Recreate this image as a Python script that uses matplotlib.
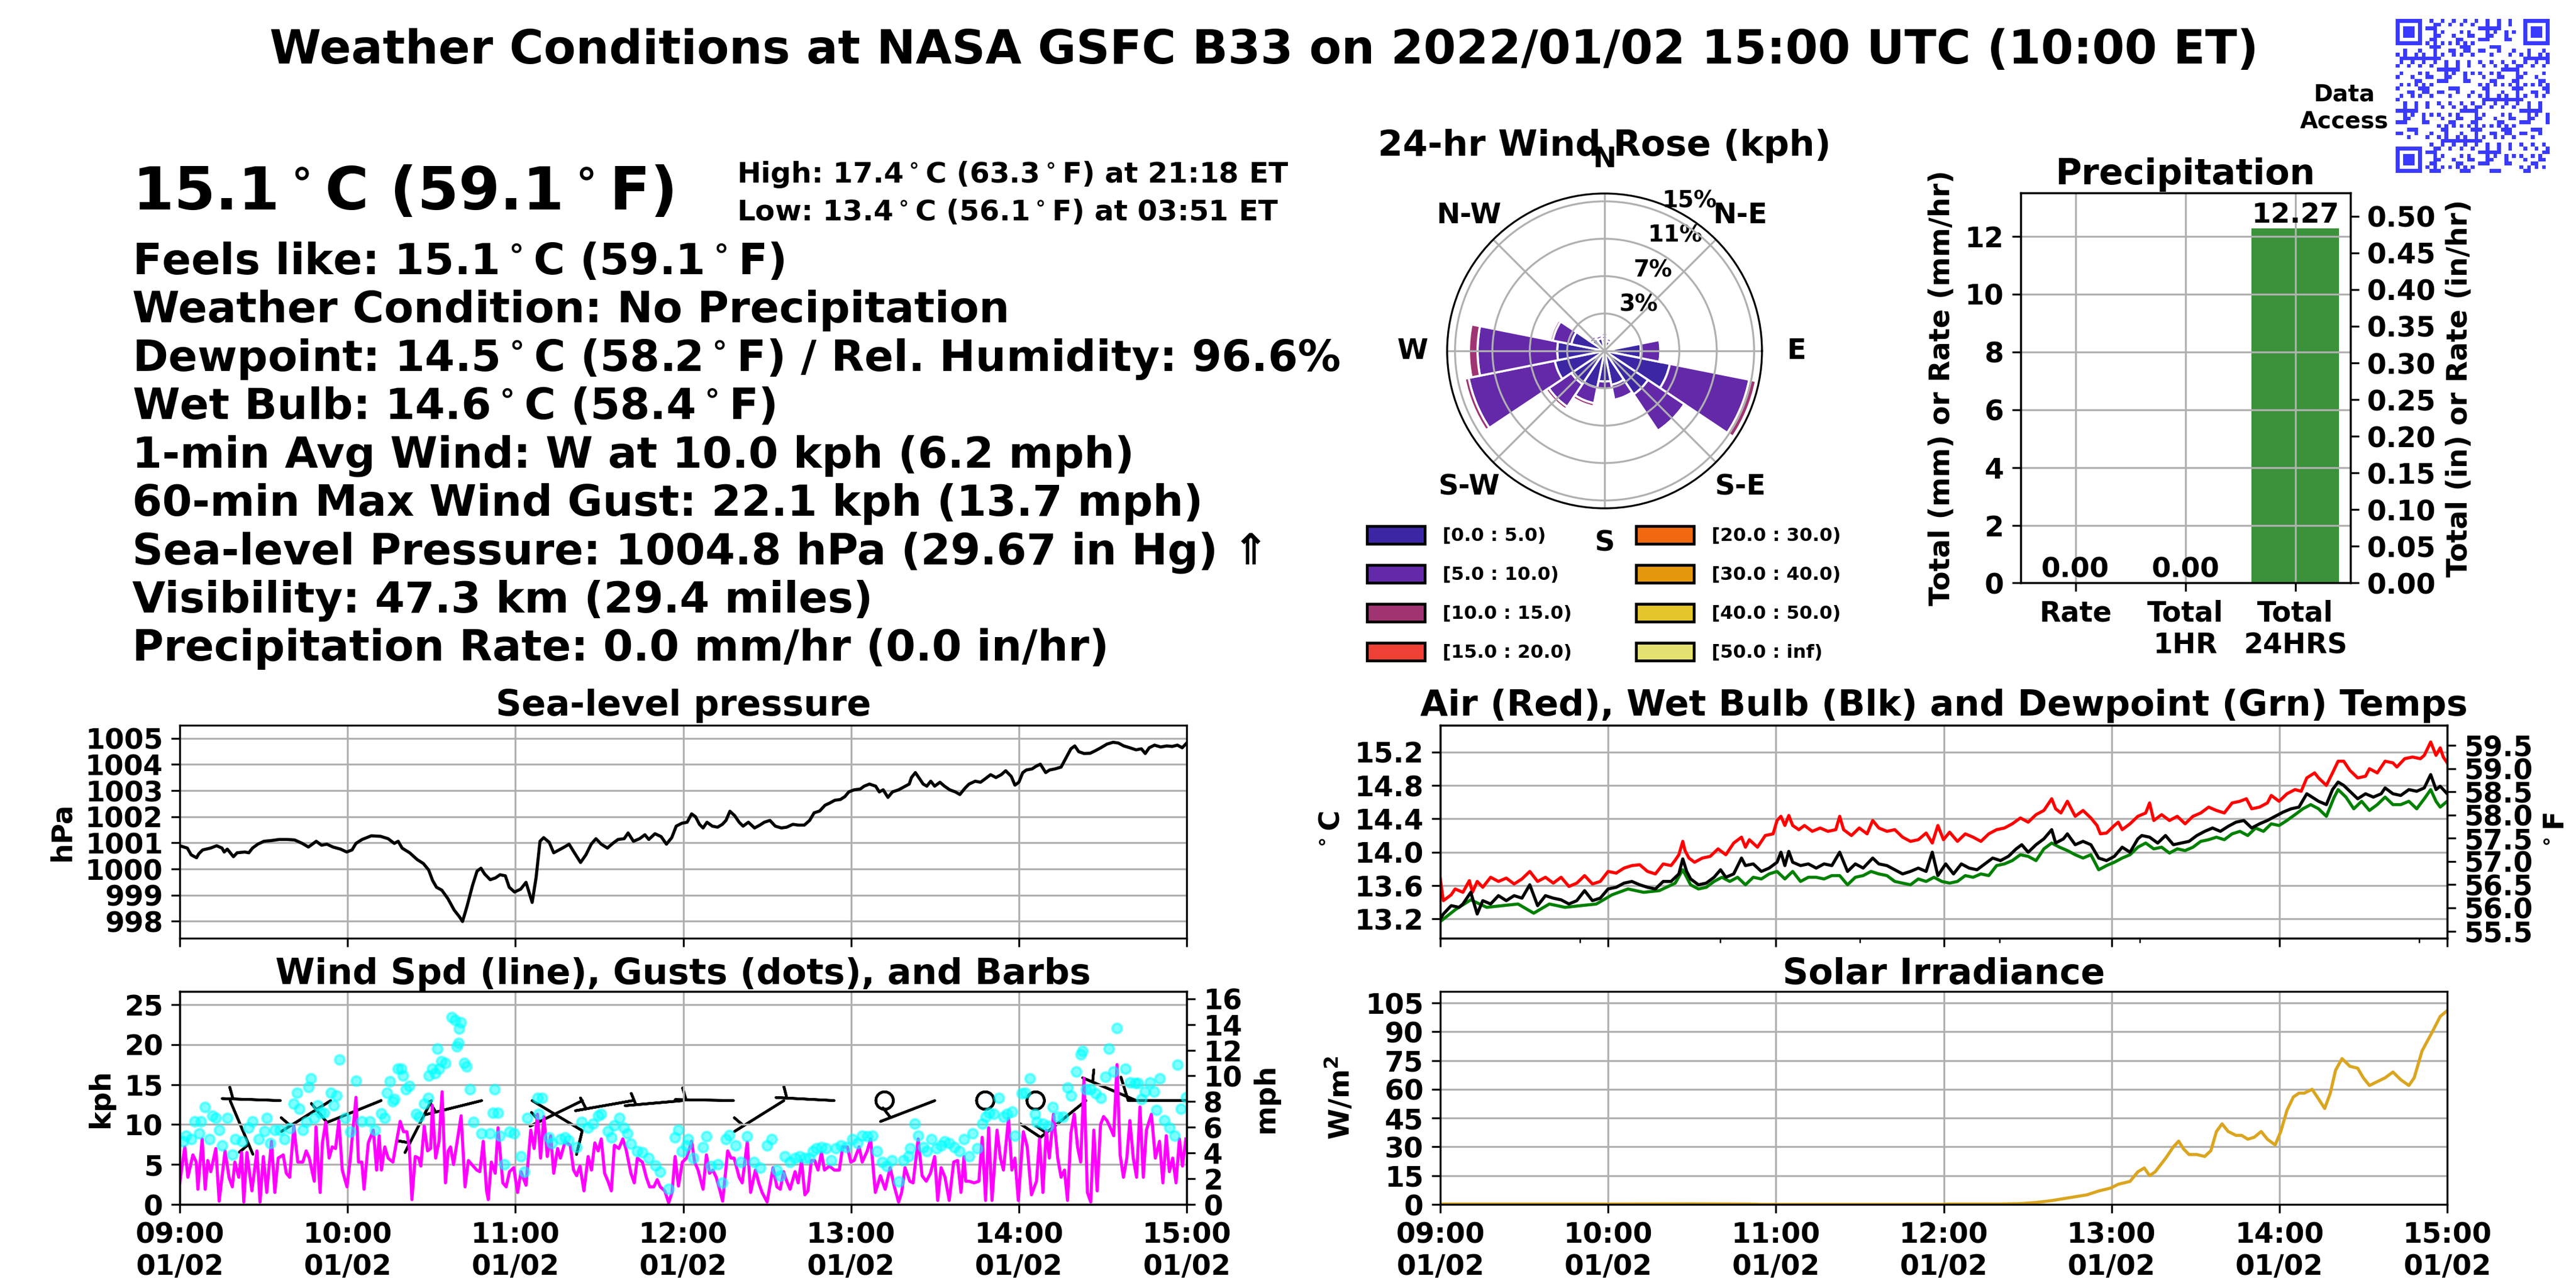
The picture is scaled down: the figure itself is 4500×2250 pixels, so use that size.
import numpy as np
import matplotlib
matplotlib.use("Agg")
import matplotlib.pyplot as plt
import matplotlib.dates as mdates
from matplotlib.patches import Patch
from matplotlib.ticker import FixedLocator, FormatStrFormatter
from matplotlib.colors import ListedColormap

plt.rcParams['font.family'] = ['DejaVu Sans']
plt.rcParams['font.weight'] = 'bold'
plt.rcParams['axes.titleweight'] = 'bold'
plt.rcParams['axes.labelweight'] = 'bold'
plt.rcParams['mathtext.default'] = 'bf'

# ---------------- DATA ----------------
title_text = "Weather Conditions at NASA GSFC B33 on 2022/01/02 15:00 UTC (10:00 ET)"
big_temp = "15.1$^\\circ$C (59.1$^\\circ$F)"
high_text = "High: 17.4$^\\circ$C (63.3$^\\circ$F) at 21:18 ET"
low_text = "Low: 13.4$^\\circ$C (56.1$^\\circ$F) at 03:51 ET"
info_lines = [
    "Feels like: 15.1$^\\circ$C (59.1$^\\circ$F)",
    "Weather Condition: No Precipitation",
    "Dewpoint: 14.5$^\\circ$C (58.2$^\\circ$F) / Rel. Humidity: 96.6%",
    "Wet Bulb: 14.6$^\\circ$C (58.4$^\\circ$F)",
    "1-min Avg Wind: W at 10.0 kph (6.2 mph)",
    "60-min Max Wind Gust: 22.1 kph (13.7 mph)",
    "Sea-level Pressure: 1004.8 hPa (29.67 in Hg) \u21d1",
    "Visibility: 47.3 km (29.4 miles)",
    "Precipitation Rate: 0.0 mm/hr (0.0 in/hr)",
]

# Wind rose: 16 sectors clockwise from N, percent per speed bin
rose_sectors = ['N', 'NNE', 'NE', 'ENE', 'E', 'ESE', 'SE', 'SSE',
                'S', 'SSW', 'SW', 'WSW', 'W', 'WNW', 'NW', 'NNW']
rose_0_5 = [1.2, 1.0, 0.8, 0.7, 3.64, 6.68, 5.24, 3.47, 3.07, 3.75, 4.0, 5.09, 4.75, 3.4, 1.5, 1.3]
rose_5_10 = [0.3, 0.3, 0.2, 0.2, 1.96, 8.12, 4.4, 1.53, 0.77, 1.6, 2.73, 8.81, 7.99, 1.9, 0.3, 0.3]
rose_10_15 = [0.25, 0.2, 0.1, 0.1, 0.2, 0.68, 0.0, 0.0, 0.0, 0.33, 0.32, 0.4, 0.86, 0.25, 0.15, 0.2]
rose_labels = ['[0.0 : 5.0)', '[5.0 : 10.0)', '[10.0 : 15.0)', '[15.0 : 20.0)',
               '[20.0 : 30.0)', '[30.0 : 40.0)', '[40.0 : 50.0)', '[50.0 : inf)']
rose_colors = ['#3c26a4', '#6429a9', '#a03472', '#ef4036',
               '#f0680f', '#e4970a', '#e4c52a', '#e6e272']
rose_rticks = [3.75, 7.5, 11.25, 15.0]
rose_rlabels = ['3%', '7%', '11%', '15%']

# Precipitation
precip_cats = ['Rate', 'Total\n1HR', 'Total\n24HRS']
precip_vals = [0.0, 0.0, 12.27]

# Sea-level pressure (minutes after 09:00 UTC, hPa)
pres_min = [0, 2.7, 4.1, 6.0, 6.8, 8.2, 11.0, 13.2, 15.1, 15.9, 17.0, 19.2, 20.5, 23.3, 24.7, 26.0,
            27.9, 30.1, 32.9, 35.6, 38.4, 41.1, 43.8, 46.0, 48.8, 50.7, 52.6, 54.8, 57.5, 59.7, 61.6,
            63.0, 65.2, 68.5, 71.8, 74.5, 76.7, 78.1, 79.5, 82.2, 84.9, 87.1, 89.0, 90.4, 91.8, 93.7,
            95.9, 98.1, 100.0, 101.1, 102.7, 104.7, 106.3, 107.7, 109.0, 111.0, 112.9, 114.5, 116.4,
            117.8, 119.7, 121.9, 123.8, 126.0, 127.4, 128.8, 130.1, 132.1, 133.7, 135.6, 137.5, 139.2,
            141.1, 143.3, 145.2, 147.1, 148.8, 150.7, 152.9, 154.8, 156.7, 158.9, 160.3, 162.2, 164.4,
            166.3, 167.7, 169.9, 172.1, 174.0, 175.9, 177.5, 179.5, 181.4, 183.0, 184.4, 185.8, 187.1,
            188.5, 190.4, 192.3, 194.0, 195.3, 196.7, 198.4, 200.0, 201.4, 203.3, 205.5, 207.4, 209.0,
            211.0, 212.9, 215.1, 217.0, 219.2, 221.1, 223.3, 225.2, 226.8, 228.8, 230.7, 232.3, 234.2,
            236.2, 237.8, 239.2, 241.1, 243.3, 244.7, 246.6, 248.8, 250.1, 251.5, 253.2, 254.8, 257.0,
            258.9, 260.8, 261.6, 263.0, 264.4, 265.8, 267.1, 268.5, 269.9, 271.8, 273.4, 275.3, 277.3,
            278.9, 280.8, 282.2, 284.4, 286.3, 288.2, 289.9, 291.8, 293.7, 295.3, 297.3, 298.6, 300.0,
            301.4, 302.7, 304.7, 306.3, 307.7, 309.6, 311.0, 312.9, 315.1, 317.3, 318.6, 320.0, 321.4,
            323.3, 325.5, 327.4, 329.3, 331.5, 333.7, 335.6, 337.5, 339.7, 341.9, 343.8, 345.2, 346.6,
            348.5, 350.7, 352.9, 354.8, 356.7, 358.4, 360.0]
pres_hpa = [1000.89, 1000.80, 1000.54, 1000.43, 1000.58, 1000.73, 1000.80, 1000.89, 1000.80, 1000.65,
            1000.76, 1000.47, 1000.62, 1000.65, 1000.62, 1000.80, 1000.95, 1001.06, 1001.09, 1001.13,
            1001.13, 1001.11, 1000.98, 1000.84, 1001.06, 1000.91, 1000.95, 1000.84, 1000.76, 1000.65,
            1000.73, 1000.98, 1001.13, 1001.27, 1001.25, 1001.16, 1000.98, 1001.06, 1000.80, 1000.62,
            1000.36, 1000.21, 999.96, 999.56, 999.30, 999.19, 998.86, 998.43, 998.17, 997.99, 998.57,
            999.38, 999.92, 1000.03, 999.81, 999.59, 999.66, 999.78, 999.74, 999.30, 999.12, 999.23,
            999.49, 998.72, 999.67, 1001.06, 1001.20, 1001.02, 1000.62, 1000.73, 1000.84, 1000.95,
            1000.62, 1000.25, 1000.54, 1000.95, 1001.16, 1000.95, 1000.80, 1000.98, 1001.13, 1001.16,
            1001.38, 1001.06, 1001.16, 1001.31, 1001.13, 1001.35, 1001.24, 1000.95, 1001.20, 1001.64,
            1001.75, 1001.79, 1002.11, 1002.00, 1001.71, 1001.57, 1001.79, 1001.64, 1001.60, 1001.71,
            1001.86, 1002.21, 1002.04, 1001.79, 1001.64, 1001.79, 1001.57, 1001.68, 1001.79, 1001.86,
            1001.64, 1001.57, 1001.60, 1001.71, 1001.68, 1001.68, 1001.86, 1002.15, 1002.22, 1002.44,
            1002.52, 1002.63, 1002.66, 1002.77, 1002.95, 1003.03, 1003.06, 1003.17, 1003.25, 1003.17,
            1002.95, 1003.03, 1002.74, 1002.95, 1003.03, 1003.14, 1003.25, 1003.50, 1003.69, 1003.47,
            1003.25, 1003.17, 1003.36, 1003.17, 1003.32, 1003.17, 1003.03, 1002.95, 1002.85, 1003.10,
            1003.25, 1003.36, 1003.32, 1003.47, 1003.61, 1003.50, 1003.61, 1003.76, 1003.54, 1003.21,
            1003.32, 1003.69, 1003.79, 1003.83, 1003.94, 1004.01, 1003.69, 1003.79, 1003.83, 1003.90,
            1004.34, 1004.60, 1004.71, 1004.49, 1004.42, 1004.43, 1004.53, 1004.64, 1004.78, 1004.85,
            1004.82, 1004.71, 1004.64, 1004.56, 1004.60, 1004.42, 1004.64, 1004.74, 1004.67, 1004.71,
            1004.69, 1004.74, 1004.64, 1004.82]

# 1-min wind speed (kph)
wind_min = [0, 1.8, 2.9, 4.7, 5.9, 6.5, 8.0, 9.1, 10.0, 11.1, 12.9, 14.1, 16.2, 17.6, 18.8, 19.7, 21.1,
            22.1, 22.9, 24.0, 25.8, 27.6, 28.7, 29.9, 31.1, 32.8, 34.0, 35.2, 37.0, 38.1, 39.3, 40.8,
            42.2, 44.0, 45.2, 46.3, 48.1, 48.7, 50.2, 51.0, 52.2, 53.4, 54.5, 55.7, 56.9, 58.1, 59.8,
            61.0, 63.0, 63.9, 65.1, 65.9, 67.4, 69.2, 70.4, 71.3, 72.1, 73.3, 74.5, 76.2, 78.8, 80.0,
            81.2, 82.1, 83.0, 84.2, 85.4, 86.2, 87.4, 88.6, 89.7, 90.3, 91.5, 92.7, 93.8, 95.0, 96.0,
            96.8, 97.9, 99.1, 100.6, 102.0, 103.2, 104.4, 106.2, 107.3, 108.5, 109.7, 110.3, 111.4,
            112.8, 113.8, 115.5, 116.7, 117.9, 119.4, 120.8, 122.0, 123.8, 125.5, 126.7, 127.9, 129.0,
            130.2, 131.4, 132.6, 133.7, 135.1, 136.1, 137.8, 139.6, 140.8, 141.9, 143.1, 144.5, 146.0,
            147.2, 148.4, 149.6, 150.7, 151.9, 153.1, 154.3, 155.4, 157.0, 158.4, 159.5, 161.3, 162.5,
            163.6, 165.4, 166.8, 168.0, 169.5, 170.7, 171.8, 173.4, 174.8, 176.0, 177.1, 178.3, 179.7,
            181.2, 183.0, 184.1, 185.3, 187.1, 188.3, 189.4, 190.6, 191.8, 193.0, 194.1, 195.9, 197.1,
            198.2, 200.0, 201.1, 202.9, 204.1, 205.8, 207.0, 208.2, 210.0, 212.1, 213.5, 214.7, 215.9,
            217.0, 218.2, 220.0, 221.1, 222.3, 223.5, 224.6, 225.8, 227.0, 228.2, 229.4, 230.5, 232.3,
            234.0, 235.8, 237.0, 238.7, 239.9, 241.1, 242.9, 244.0, 245.8, 247.0, 248.7, 250.5, 252.2,
            254.0, 255.5, 257.0, 258.1, 259.3, 261.0, 262.2, 264.0, 265.4, 266.9, 268.4, 269.9, 271.0,
            272.2, 273.6, 275.1, 276.7, 278.1, 279.3, 280.4, 281.0, 282.2, 284.0, 285.7, 286.9, 288.1,
            289.2, 290.4, 292.2, 293.4, 294.5, 296.3, 297.5, 298.6, 299.8, 301.6, 303.0, 304.5, 306.3,
            307.4, 308.6, 309.8, 310.9, 312.4, 313.9, 315.1, 316.3, 317.4, 318.6, 319.8, 321.0, 322.1,
            323.3, 324.5, 325.7, 326.8, 328.0, 329.2, 330.3, 331.5, 332.7, 333.9, 335.1, 336.2, 337.4,
            338.6, 339.7, 340.9, 342.1, 343.3, 344.5, 345.6, 347.4, 348.8, 350.3, 351.5, 352.7, 353.8,
            355.0, 356.2, 357.4, 358.5, 359.7]
wind_kph = [2.7, 7.2, 3.4, 6.2, 5.3, 1.9, 8.2, 1.9, 5.5, 4.1, 7.0, 0.4, 6.7, 3.4, 2.2, 5.3, 3.4,
            6.5, 0.3, 6.5, 1.7, 6.7, 0.3, 6.0, 1.5, 7.9, 1.5, 5.8, 6.2, 3.9, 3.4, 9.8,
            5.3, 5.3, 6.7, 5.8, 2.9, 9.7, 1.5, 7.7, 10.3, 5.8, 7.2, 7.0, 10.5, 4.3, 2.2,
            5.8, 13.4, 5.3, 5.3, 1.9, 7.7, 9.3, 4.3, 8.6, 4.3, 7.2, 5.8, 5.3, 10.4, 9.1,
            9.1, 7.0, 0.6, 6.0, 5.8, 4.8, 9.8, 6.7, 7.0, 12.4, 5.8, 7.9, 14.1, 2.7, 6.7,
            7.2, 5.0, 7.7, 11.1, 2.2, 5.5, 5.0, 4.3, 4.1, 7.9, 1.7, 0.6, 5.3,
            3.9, 9.6, 2.7, 2.2, 4.1, 4.6, 1.5, 4.1, 2.4, 9.3, 7.0, 11.3, 5.8,
            11.0, 6.0, 8.6, 3.9, 7.0, 5.8, 7.9, 7.4, 4.3, 3.6, 4.8, 1.7, 6.0,
            4.3, 7.7, 6.7, 8.2, 3.9, 2.9, 1.7, 7.4, 7.0, 8.2, 7.0, 3.9, 2.7,
            5.8, 5.3, 3.4, 2.2, 2.2, 3.1, 2.2, 1.7, 0.2, 1.5, 6.0, 2.3, 5.3,
            5.8, 7.9, 5.3, 4.3, 1.9, 6.2, 3.9, 4.3, 3.4, 1.9, 0.4, 6.7, 5.8,
            5.8, 3.4, 2.7, 7.8, 1.5, 4.3, 2.7, 1.5, 0.3, 4.6, 2.2, 1.9, 4.1,
            2.9, 1.9, 4.1, 2.7, 5.5, 1.2, 1.7, 5.5, 5.5, 4.3, 6.5, 4.3, 4.8,
            4.3, 4.3, 7.2, 7.2, 5.3, 5.5, 7.2, 5.3, 6.7, 8.2, 1.5, 3.6, 1.9,
            4.6, 2.2, 0.3, 1.5, 4.6, 2.9, 2.7, 8.2, 3.6, 2.9, 3.9, 6.0, 0.5,
            4.6, 3.4, 0.5, 5.3, 5.5, 1.5, 6.0, 2.9, 2.9, 2.7, 2.9, 8.4, 0.5,
            9.6, 0.5, 9.3, 5.8, 4.3, 10.8, 4.3, 5.8, 0.5, 9.1, 7.2, 1.2, 2.9,
            8.2, 1.5, 9.3, 5.8, 11.3, 5.8, 3.4, 4.3, 0.5, 8.9, 11.3, 7.2, 5.3,
            15.8, 1.5, 0.3, 9.3, 1.7, 10.0, 11.0, 10.5, 9.6, 8.6, 17.5, 6.2, 3.4,
            5.8, 10.5, 5.8, 3.4, 12.2, 3.4, 9.3, 11.3, 5.8, 7.9, 2.7, 8.6, 4.1,
            5.8, 2.7, 8.2, 4.8, 8.2]

# Gusts (kph)
gust_min = [1.2, 2.3, 4.1, 5.3, 7.0, 7.6, 9.1, 10.6, 11.7, 12.9, 14.1, 15.2, 17.0, 18.8, 19.9, 22.3,
            24.6, 26.0, 28.2, 30.3, 31.1, 32.3, 34.0, 35.8, 37.5, 39.3, 40.8, 42.0, 42.8, 44.0, 45.2,
            46.0, 46.9, 48.1, 49.3, 50.4, 51.6, 54.0, 55.1, 56.1, 57.1, 59.2, 61.0, 63.0, 65.1, 68.0,
            69.8, 72.1, 73.3, 74.1, 75.1, 76.2, 76.8, 78.0, 79.2, 79.8, 80.9, 82.1, 84.5, 85.6, 87.4,
            88.9, 89.1, 90.3, 91.2, 92.1, 92.7, 93.6, 95.0, 97.2, 98.5, 99.1, 99.6, 99.9, 100.5, 101.8,
            102.6, 103.8, 105.0, 107.9, 110.9, 112.0, 112.6, 113.8, 114.4, 116.1, 117.9, 119.6, 122.0,
            123.2, 124.3, 127.9, 128.4, 129.6, 132.0, 133.1, 136.1, 137.8, 139.0, 141.9, 143.7, 146.0,
            147.8, 149.6, 150.7, 153.1, 154.3, 155.4, 157.2, 158.9, 160.1, 161.3, 163.6, 165.4, 167.7,
            170.1, 171.8, 174.8, 177.1, 178.3, 179.4, 181.2, 181.8, 183.6, 187.1, 188.3, 190.0, 192.4,
            194.1, 195.3, 196.5, 198.8, 200.6, 202.9, 205.3, 207.6, 210.0, 211.7, 213.5, 214.7, 216.4,
            218.2, 220.0, 221.7, 223.5, 225.2, 226.4, 227.6, 229.4, 231.1, 232.9, 234.6, 236.4, 238.2,
            240.5, 242.3, 244.0, 245.8, 247.6, 249.3, 251.1, 252.8, 254.6, 257.0, 258.7, 260.5, 261.1,
            262.8, 264.0, 265.8, 267.0, 268.7, 270.5, 272.2, 273.4, 275.1, 276.9, 278.7, 280.4, 282.2,
            283.4, 285.1, 286.9, 288.1, 289.3, 291.0, 292.8, 294.5, 295.7, 297.5, 298.6, 301.0, 302.2,
            304.0, 305.7, 306.3, 308.6, 310.4, 312.1, 313.9, 315.7, 317.4, 318.6, 320.4, 322.1, 322.7,
            323.9, 325.7, 327.4, 329.2, 330.9, 332.1, 333.9, 335.0, 338.0, 339.8, 341.5, 342.7, 343.9,
            345.1, 346.8, 348.3, 349.1, 350.3, 352.1, 353.8, 355.6, 356.8, 358.0, 359.7]
gust_kph = [7.9, 8.6, 8.2, 10.4, 8.9, 10.4, 12.2, 8.2, 11.1, 10.8, 9.3, 7.4, 10.8, 6.2, 8.2, 7.9,
            9.6, 10.4, 8.2, 9.2, 10.8, 7.7, 9.3, 9.3, 8.2, 9.5, 12.6, 14.0, 12.0, 9.3, 10.3,
            14.7, 15.8, 10.8, 12.4, 11.5, 11.5, 14.0, 12.4, 13.6, 18.1, 10.8, 9.1, 15.5, 10.4, 10.4,
            9.3, 11.4, 10.8, 14.0, 15.4, 12.9, 13.2, 17.0, 17.0, 16.1, 14.4, 14.8, 11.3, 11.0, 12.6,
            13.3, 16.1, 17.0, 16.4, 19.5, 17.0, 17.9, 17.7, 23.4, 23.1, 19.8, 20.2, 22.0, 22.8, 17.7,
            17.3, 14.4, 10.3, 8.9, 8.9, 11.5, 14.4, 11.5, 8.6, 5.0, 9.1, 8.9, 6.0,
            4.1, 10.8, 13.3, 11.3, 13.3, 8.4, 7.7, 8.2, 8.4, 8.0, 7.2, 10.3, 9.6,
            10.1, 11.1, 11.3, 9.2, 8.4, 9.9, 10.8, 9.6, 8.9, 7.6, 6.7, 6.5, 5.8,
            4.9, 4.1, 1.9, 8.4, 9.3, 6.7, 7.4, 8.2, 5.8, 7.2, 8.5, 4.8, 5.0,
            2.7, 8.2, 8.7, 7.4, 5.3, 8.5, 5.3, 4.6, 7.4, 8.2, 4.3, 3.6, 6.0,
            5.3, 5.8, 6.0, 5.8, 5.8, 6.7, 7.0, 7.2, 7.0, 5.5, 7.0, 7.4, 7.2,
            8.2, 7.7, 8.6, 8.5, 8.6, 6.7, 5.3, 4.8, 5.5, 2.9, 5.5, 6.0, 7.0,
            10.1, 8.6, 7.2, 6.7, 8.2, 7.0, 7.4, 7.9, 7.7, 7.2, 6.7, 8.2, 6.0,
            8.9, 7.0, 10.1, 11.0, 11.5, 11.3, 13.3, 11.0, 11.3, 11.6, 8.6, 13.9, 14.0,
            15.8, 11.3, 10.3, 10.1, 9.8, 12.2, 11.0, 11.0, 14.6, 13.6, 16.6, 18.8, 19.2,
            14.4, 14.4, 13.9, 13.3, 16.0, 19.5, 16.6, 22.1, 17.0, 15.3, 15.2, 15.2, 13.2,
            14.1, 15.3, 14.1, 11.8, 15.8, 10.5, 9.6, 8.6, 17.5, 12.0, 13.4]

# Wind barbs every 18 min at y = 13 kph (direction wind comes from, deg; speed kph)
barb_min = [18, 36, 54, 72, 90, 108, 126, 144, 162, 180, 198, 216, 234, 252, 270, 288, 306, 324, 342, 360]
barb_dir = [157, 272, 238, 248, 207, 256, 121, 244, 260, 265, 271, 238, 273, 0, 249, 0, 0, 231, 293, 270]
barb_spd = [5, 5, 5, 10, 5, 5, 10, 5, 5, 5, 5, 5, 5, 0, 5, 0, 0, 15, 5, 10]
barb_level = 13.0

# Temperatures (deg C)
air_min = [0, 1.1, 3.9, 5.3, 8.1, 10.4, 11.5, 13.2, 15.2, 18.0, 20.8, 23.6, 26.4, 29.2, 32.0, 34.8,
           37.6, 40.4, 43.2, 46.0, 48.8, 51.6, 54.4, 57.2, 60.0, 62.9, 65.7, 68.5, 71.3, 74.1, 76.9,
           79.7, 82.5, 83.9, 85.3, 86.7, 87.5, 88.9, 90.9, 93.7, 96.5, 99.3, 102.1, 104.9, 107.7,
           109.1, 110.5, 113.4, 116.2, 119.0, 120.4, 121.8, 123.2, 124.6, 126.0, 128.2, 130.2, 133.0,
           135.8, 138.6, 141.4, 142.8, 144.2, 147.0, 149.8, 152.6, 154.6, 156.8, 159.7, 162.5, 165.3,
           168.1, 170.9, 173.7, 175.9, 177.9, 179.9, 182.1, 184.9, 187.7, 190.5, 193.3, 196.1, 198.9,
           201.7, 204.5, 207.4, 210.2, 213.0, 215.8, 218.6, 220.0, 221.9, 224.2, 227.0, 229.8, 232.6,
           234.8, 236.0, 238.2, 241.0, 242.4, 243.8, 246.6, 249.4, 252.2, 253.6, 255.1, 257.9, 260.7,
           263.5, 266.3, 269.1, 271.9, 274.7, 277.5, 280.3, 283.1, 285.9, 288.2, 290.1, 292.9, 295.7,
           297.1, 299.9, 302.7, 305.6, 307.8, 309.8, 312.6, 314.0, 316.8, 319.0, 321.0, 323.0, 325.2,
           328.0, 330.8, 332.2, 335.0, 337.8, 340.6, 342.0, 344.8, 347.6, 350.4, 351.8, 354.1, 356.0,
           357.5, 358.6, 360.0]
air_c = [13.68, 13.42, 13.49, 13.56, 13.52, 13.66, 13.52, 13.65, 13.58, 13.70, 13.65, 13.69, 13.62,
         13.68, 13.77, 13.65, 13.70, 13.63, 13.70, 13.59, 13.63, 13.72, 13.62, 13.65, 13.77, 13.75,
         13.81, 13.84, 13.85, 13.77, 13.74, 13.86, 13.84, 13.90, 13.97, 14.13, 14.02, 13.93, 13.88,
         13.93, 13.95, 14.04, 13.97, 14.11, 14.18, 14.06, 14.15, 14.06, 14.20, 14.22, 14.38, 14.43,
         14.32, 14.44, 14.32, 14.27, 14.32, 14.25, 14.29, 14.25, 14.27, 14.43, 14.27, 14.20, 14.29,
         14.22, 14.38, 14.29, 14.25, 14.27, 14.18, 14.13, 14.15, 14.23, 14.11, 14.32, 14.15, 14.24,
         14.13, 14.22, 14.18, 14.13, 14.22, 14.27, 14.29, 14.34, 14.41, 14.36, 14.45, 14.50, 14.64,
         14.52, 14.47, 14.61, 14.43, 14.50, 14.41, 14.32, 14.22, 14.23, 14.32, 14.36, 14.27, 14.34,
         14.43, 14.47, 14.59, 14.38, 14.45, 14.38, 14.43, 14.34, 14.43, 14.47, 14.54, 14.50, 14.47,
         14.59, 14.61, 14.64, 14.52, 14.54, 14.59, 14.68, 14.61, 14.70, 14.75, 14.73, 14.89, 14.95,
         14.89, 14.80, 14.95, 15.09, 15.09, 14.98, 14.89, 14.91, 15.00, 14.95, 15.09, 15.07, 15.02,
         15.12, 15.14, 15.12, 15.16, 15.32, 15.16, 15.25, 15.14, 15.07]

wet_min = [0, 1.1, 3.9, 6.7, 8.1, 10.9, 13.2, 15.2, 18.0, 20.8, 23.6, 26.4, 29.2, 32.0, 34.8, 37.6,
           40.4, 43.2, 46.0, 48.8, 51.6, 54.4, 57.2, 60.0, 62.9, 65.7, 68.5, 71.3, 74.1, 76.9, 79.7,
           82.5, 85.3, 86.7, 88.1, 89.5, 92.3, 95.1, 97.9, 100.2, 102.1, 104.9, 107.7, 109.1, 111.9,
           114.8, 117.6, 120.4, 121.8, 123.2, 124.6, 126.0, 128.8, 131.6, 134.4, 137.2, 140.0, 142.8,
           145.6, 148.4, 151.2, 154.6, 156.8, 159.7, 162.5, 165.3, 168.1, 170.9, 173.7, 175.9, 177.9,
           180.7, 183.5, 186.3, 189.1, 191.9, 194.7, 197.5, 200.3, 203.1, 205.9, 207.9, 210.2, 213.0,
           215.8, 218.6, 220.0, 222.8, 224.2, 227.0, 229.8, 232.6, 235.4, 238.2, 241.0, 243.8, 246.6,
           249.4, 250.8, 253.6, 256.5, 259.3, 262.1, 264.9, 267.7, 270.5, 273.3, 276.1, 278.9, 281.7,
           284.5, 287.3, 290.1, 292.9, 295.7, 298.5, 301.3, 304.2, 307.0, 309.8, 311.7, 314.0, 316.8,
           319.0, 321.0, 323.0, 325.2, 328.0, 330.8, 333.6, 336.4, 337.8, 340.6, 343.4, 346.3, 349.1,
           351.8, 354.1, 356.0, 357.5, 360.0]
wet_c = [13.20, 13.26, 13.36, 13.34, 13.38, 13.52, 13.26, 13.42, 13.38, 13.48, 13.42, 13.48, 13.45,
         13.61, 13.36, 13.48, 13.45, 13.43, 13.38, 13.42, 13.54, 13.42, 13.45, 13.56, 13.58, 13.63,
         13.65, 13.61, 13.58, 13.56, 13.65, 13.65, 13.74, 13.92, 13.77, 13.68, 13.61, 13.63, 13.70,
         13.79, 13.70, 13.74, 13.93, 13.84, 13.86, 13.77, 13.81, 13.88, 14.00, 13.84, 14.01, 13.88,
         13.84, 13.86, 13.81, 13.86, 13.84, 14.00, 13.77, 13.86, 13.81, 13.93, 13.86, 13.84, 13.79,
         13.74, 13.77, 13.81, 13.77, 14.00, 13.72, 13.86, 13.74, 13.86, 13.81, 13.79, 13.86, 13.93,
         13.90, 13.95, 14.04, 14.09, 14.00, 14.09, 14.16, 14.27, 14.11, 14.16, 14.22, 14.09, 14.13,
         14.09, 13.93, 13.90, 13.95, 14.06, 14.00, 14.16, 14.20, 14.18, 14.11, 14.20, 14.09, 14.11,
         14.13, 14.20, 14.25, 14.29, 14.25, 14.31, 14.36, 14.38, 14.29, 14.34, 14.38, 14.43, 14.48,
         14.52, 14.54, 14.70, 14.66, 14.61, 14.57, 14.75, 14.84, 14.80, 14.73, 14.64, 14.70, 14.66,
         14.70, 14.77, 14.70, 14.68, 14.75, 14.73, 14.77, 14.93, 14.75, 14.79, 14.70]

dew_min = [0, 5.3, 10.9, 16.6, 22.2, 27.8, 33.4, 39.0, 44.6, 50.2, 55.8, 61.4, 67.1, 72.7, 78.3, 84.0,
           86.7, 89.5, 92.3, 95.1, 97.9, 100.7, 103.5, 106.3, 109.1, 111.9, 114.8, 117.6, 120.4,
           123.2, 126.0, 128.8, 131.6, 134.4, 137.2, 140.0, 142.8, 145.6, 148.4, 151.2, 154.0, 156.8,
           159.7, 162.5, 165.3, 168.1, 170.9, 173.7, 176.5, 179.3, 182.1, 184.9, 187.7, 190.5, 193.3,
           196.1, 198.9, 201.7, 204.5, 207.4, 210.2, 213.0, 215.8, 218.6, 221.4, 224.2, 227.0, 229.8,
           232.6, 235.4, 238.2, 241.0, 243.8, 246.6, 249.4, 252.2, 255.1, 257.9, 260.7, 263.5, 266.3,
           269.1, 271.9, 274.7, 277.5, 280.3, 283.1, 285.9, 288.7, 291.5, 294.3, 297.1, 299.9, 302.7,
           305.6, 308.4, 311.2, 314.0, 316.8, 319.6, 321.0, 323.8, 326.6, 329.4, 332.2, 335.0, 337.8,
           340.6, 343.4, 346.3, 349.1, 351.8, 354.1, 356.0, 357.5, 360.0]
dew_c = [13.17, 13.31, 13.43, 13.34, 13.36, 13.38, 13.27, 13.38, 13.34, 13.36, 13.38, 13.49, 13.56,
         13.52, 13.54, 13.63, 13.79, 13.61, 13.56, 13.58, 13.65, 13.70, 13.65, 13.70, 13.61, 13.70,
         13.68, 13.74, 13.77, 13.68, 13.77, 13.65, 13.70, 13.70, 13.68, 13.72, 13.72, 13.61, 13.70,
         13.72, 13.77, 13.74, 13.72, 13.65, 13.63, 13.61, 13.68, 13.65, 13.70, 13.65, 13.63, 13.65,
         13.72, 13.70, 13.74, 13.72, 13.84, 13.86, 13.90, 13.97, 13.95, 13.90, 14.04, 14.11, 14.06,
         14.02, 13.97, 13.93, 13.97, 13.79, 13.84, 13.88, 13.93, 13.97, 14.06, 14.11, 14.04, 14.06,
         13.99, 14.04, 14.02, 14.06, 14.13, 14.15, 14.18, 14.15, 14.22, 14.25, 14.20, 14.29, 14.25,
         14.34, 14.32, 14.38, 14.45, 14.52, 14.57, 14.52, 14.43, 14.66, 14.75, 14.66, 14.52, 14.61,
         14.50, 14.57, 14.66, 14.57, 14.57, 14.61, 14.52, 14.64, 14.75, 14.61, 14.54, 14.61]

# Solar irradiance (W/m2)
solar_min = [0, 30, 60, 90, 110, 115, 180, 181, 200, 207.4, 213.0, 218.6, 222.8, 227.0, 231.2, 235.4,
             239.6, 242.4, 246.6, 249.4, 251.7, 253.6, 255.6, 259.3, 262.1, 264.0, 265.7, 267.7,
             270.5, 273.3, 275.5, 277.5, 279.5, 281.7, 284.5, 286.5, 288.7, 291.0, 293.5, 295.7,
             298.5, 300.5, 302.7, 305.0, 307.0, 308.9, 311.7, 314.0, 316.2, 318.2, 320.1, 322.4,
             325.2, 328.0, 330.0, 332.2, 335.0, 337.8, 340.6, 343.4, 346.3, 348.2, 351.0, 354.7,
             357.5, 360.0]
solar_wm2 = [0.2, 0.2, 0.2, 0.3, 0.2, 0.0, 0.0, 0.2, 0.2, 0.4, 1.0, 2.0, 3.0, 4.0, 5.0, 7.0,
             8.5, 10.5, 12.0, 17.0, 19.0, 15.0, 17.0, 24.0, 30.0, 33.0, 29.0, 26.0,
             26.0, 25.0, 28.0, 38.0, 42.0, 38.0, 36.0, 36.0, 34.0, 35.0, 38.0, 34.0,
             31.0, 38.0, 49.0, 56.0, 58.0, 58.0, 60.0, 55.0, 50.0, 58.0, 70.0, 76.0,
             72.0, 71.0, 66.0, 62.0, 64.0, 66.0, 69.0, 65.0, 62.0, 66.0, 80.0, 90.0,
             98.0, 101.0]

# ---------------- FIGURE ----------------
W, H = 4500, 2250
fig = plt.figure(figsize=(15, 7.5), dpi=300)


def fy(px):
    return 1 - px / H


def fx(px):
    return px / W


fig.text(0.4907, fy(111), title_text, fontsize=19.6, ha='center', va='baseline')
fig.text(fx(231), fy(366), big_temp, fontsize=25, ha='left', va='baseline')
fig.text(fx(1287), fy(319), high_text, fontsize=12.0, ha='left', va='baseline')
fig.text(fx(1287), fy(385.5), low_text, fontsize=12.0, ha='left', va='baseline')
for i, line in enumerate(info_lines):
    fig.text(fx(231), fy(479 + 84.4 * i), line, fontsize=18, ha='left', va='baseline')

# ---- Wind rose ----
axr = fig.add_axes([fx(2528), fy(888), 550 / W, 550 / H], projection='polar')
theta = np.deg2rad(90 - 22.5 * np.arange(len(rose_sectors)))
width = np.deg2rad(22.5)
b1 = np.array(rose_0_5)
b2 = np.array(rose_5_10)
b3 = np.array(rose_10_15)
axr.bar(theta, b1, width=width, bottom=0, color=rose_colors[0], edgecolor='white', linewidth=0.9)
axr.bar(theta, b2, width=width, bottom=b1, color=rose_colors[1], edgecolor='white', linewidth=0.9)
axr.bar(theta, b3, width=width, bottom=b1 + b2, color=rose_colors[2], edgecolor='white', linewidth=0.9)
axr.set_ylim(0, 15.79)
axr.set_yticks(rose_rticks)
axr.set_yticklabels(rose_rlabels, fontsize=9.6)
axr.set_rlabel_position(67.5)
axr.set_xticks(np.deg2rad(np.arange(0, 360, 45)))
axr.set_xticklabels(['E', 'N-E', 'N', 'N-W', 'W', 'S-W', 'S', 'S-E'], fontsize=11.8)
axr.tick_params(axis='x', pad=4.0)
axr.grid(True, color='#b0b0b0', linewidth=0.8)
fig.text(fx(2803), fy(272), '24-hr Wind Rose (kph)', fontsize=15, ha='center', va='baseline')

handles = [Patch(facecolor=c, edgecolor='black', linewidth=1.2) for c in rose_colors]
fig.legend(handles, rose_labels, loc='center', bbox_to_anchor=(0.6227, 0.5389), ncol=2,
           frameon=False, fontsize=7.8, handlelength=3.1, handleheight=1.12,
           handletextpad=0.96, columnspacing=3.45, labelspacing=1.05)

# ---- Precipitation ----
axp = fig.add_axes([fx(3529.6), fy(1018.4), (4105.7 - 3529.6) / W, (1018.4 - 337.4) / H])
xs = np.arange(len(precip_cats))
axp.bar(xs, precip_vals, width=0.8, color='#3b923b')
for xi, v in zip(xs, precip_vals):
    axp.text(xi, v, f"{v:.2f}", ha='center', va='bottom', fontsize=11.6)
axp.set_xlim(-0.5, 2.5)
axp.set_ylim(0, 13.5)
axp.set_xticks(xs)
axp.set_xticklabels(precip_cats)
axp.set_yticks(np.arange(0, 13, 2))
axp.grid(True)
axp.tick_params(labelsize=11.7)
axp.set_ylabel('Total (mm) or Rate (mm/hr)', fontsize=11.8)
axp.set_title('Precipitation', fontsize=15, pad=3.8)
axp2 = axp.twinx()
axp2.set_ylim(0, 13.5 / 25.4)
axp2.set_yticks(np.arange(0, 0.51, 0.05))
axp2.yaxis.set_major_formatter(FormatStrFormatter('%.2f'))
axp2.tick_params(labelsize=11.7)
axp2.set_ylabel('Total (in) or Rate (in/hr)', fontsize=11.8)

# ---- QR code (decorative) ----
n = 41
ii, jj = np.mgrid[0:n, 0:n]
qr = (((ii * 7 + jj * 13 + (ii * jj) % 11) % 3) == 0).astype(int)
for (r0, c0) in [(0, 0), (0, n - 7), (n - 7, 0)]:
    qr[r0:r0 + 7, c0:c0 + 7] = 1
    qr[r0 + 1:r0 + 6, c0 + 1:c0 + 6] = 0
    qr[r0 + 2:r0 + 5, c0 + 2:c0 + 5] = 1
qr[7, 0:8] = 0
qr[0:8, 7] = 0
qr[7, n - 8:n] = 0
qr[0:8, n - 8] = 0
qr[n - 8, 0:8] = 0
qr[n - 8:n, 7] = 0
axq = fig.add_axes([fx(4185), fy(302), 269 / W, 269 / H])
axq.imshow(qr, cmap=ListedColormap(['white', '#3a3aff']), interpolation='nearest', aspect='auto')
axq.axis('off')
fig.text(0.91, fy(189), 'Data\nAccess', fontsize=9.7, ha='center', va='center', multialignment='center')

# ---- Time series ----
base = mdates.date2num(np.datetime64('2022-01-02T09:00'))


def tx(mins):
    return base + np.asarray(mins, dtype=float) / 1440.0


x0, x1 = base, base + 360 / 1440.0
left_col, right_col, axw = fx(314), fx(2516), 1759 / W
top_row, bot_row, axh = fy(1639), fy(2104), 372 / H

axP = fig.add_axes([left_col, top_row, axw, axh])
axW = fig.add_axes([left_col, bot_row, axw, axh])
axT = fig.add_axes([right_col, top_row, axw, axh])
axS = fig.add_axes([right_col, bot_row, axw, axh])

for ax in (axP, axW, axT, axS):
    ax.set_xlim(x0, x1)
    ax.xaxis.set_major_locator(mdates.HourLocator())
    ax.xaxis.set_major_formatter(mdates.DateFormatter('%H:%M\n%m/%d'))
    ax.grid(True)
    ax.tick_params(labelsize=11.7)
for ax in (axP, axT):
    ax.tick_params(axis='x', labelbottom=False)

# pressure
axP.plot(tx(pres_min), pres_hpa, color='black', lw=1.3)
axP.set_ylim(997.35, 1005.5)
axP.set_yticks(np.arange(998, 1006, 1))
axP.set_ylabel('hPa', fontsize=11.8)
axP.set_title('Sea-level pressure', fontsize=15, pad=4.1)

# wind
axW.plot(tx(wind_min), wind_kph, color='magenta', lw=1.3)
axW.plot(tx(gust_min), gust_kph, 'o', color='cyan', alpha=0.5, markersize=4)
bd = np.deg2rad(barb_dir)
bs = np.array(barb_spd, dtype=float)
bu = -bs * np.sin(bd)
bv = -bs * np.cos(bd)
axW.barbs(tx(barb_min), np.full(len(barb_min), barb_level), bu, bv, length=7, linewidth=1.1, color='black')
axW.set_ylim(0, 26.66)
axW.set_yticks(np.arange(0, 26, 5))
axW.set_ylabel('kph', fontsize=11.8)
axW.set_title('Wind Spd (line), Gusts (dots), and Barbs', fontsize=15, pad=3.1)
axW2 = axW.twinx()
axW2.set_ylim(0, 26.66 / 1.609344)
axW2.set_yticks(np.arange(0, 17, 2))
axW2.tick_params(labelsize=11.7)
axW2.set_ylabel('mph', fontsize=11.8)

# temperature
axT.plot(tx(air_min), air_c, color='red', lw=1.3)
axT.plot(tx(dew_min), dew_c, color='green', lw=1.3)
axT.plot(tx(wet_min), wet_c, color='black', lw=1.3)
axT.set_ylim(12.97, 15.52)
axT.set_yticks(np.arange(13.2, 15.3, 0.4))
axT.yaxis.set_major_formatter(FormatStrFormatter('%.1f'))
axT.xaxis.set_minor_locator(FixedLocator(tx([50, 100, 150, 200, 250, 300, 350])))
axT.set_ylabel('$^\\circ$C', fontsize=11.8)
axT.set_title('Air (Red), Wet Bulb (Blk) and Dewpoint (Grn) Temps', fontsize=15, pad=4.1)
axT2 = axT.twinx()
axT2.set_ylim(12.97 * 1.8 + 32, 15.52 * 1.8 + 32)
axT2.set_yticks(np.arange(55.5, 59.6, 0.5))
axT2.yaxis.set_major_formatter(FormatStrFormatter('%.1f'))
axT2.tick_params(labelsize=11.7)
axT2.set_ylabel('$^\\circ$F', fontsize=11.8)

# solar
axS.plot(tx(solar_min), solar_wm2, color='goldenrod', lw=1.3)
axS.set_ylim(0, 111)
axS.set_yticks(np.arange(0, 106, 15))
axS.set_ylabel('W/m$^2$', fontsize=11.8)
axS.set_title('Solar Irradiance', fontsize=15, pad=3.1)

fig.savefig('out.png', dpi=300)
